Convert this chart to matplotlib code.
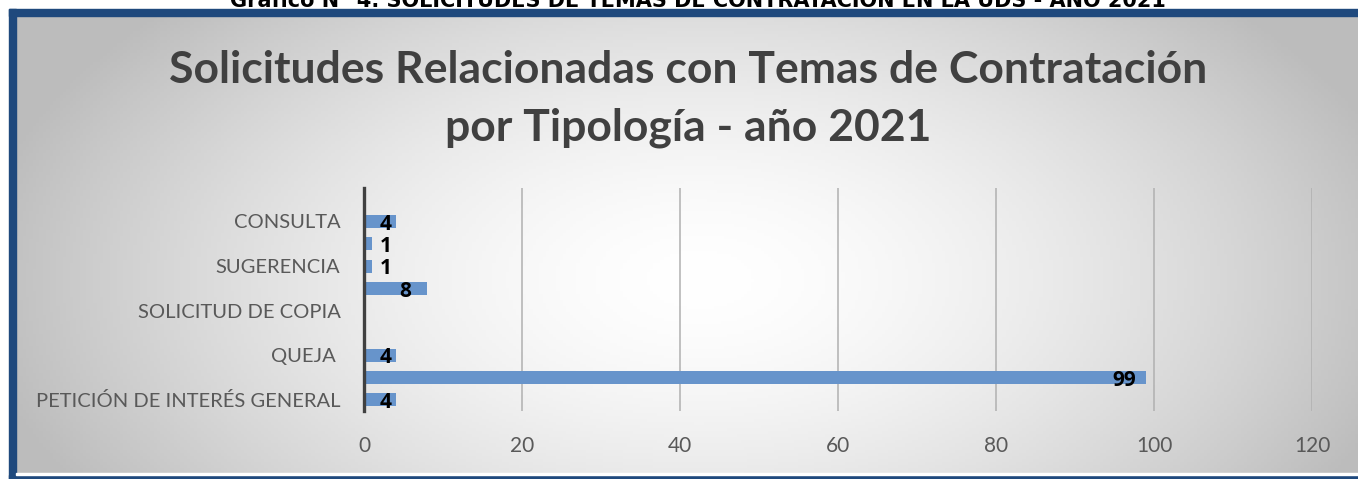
import numpy as np
import matplotlib
matplotlib.use("Agg")
import matplotlib.pyplot as plt
from matplotlib.patches import Rectangle

# --- DATA ---
categorias = ["PETICIÓN DE INTERÉS GENERAL", "PETICIÓN DE INTERÉS PARTICULAR", "QUEJA ",
              "RECLAMO", "SOLICITUD DE COPIA", "SOLICITUD DE INFORMACIÓN", "SUGERENCIA",
              "DENUNCIA", "CONSULTA", "FELICITACIÓN"]
valores = [4, 99, 4, 0, 0, 8, 1, 1, 4, 0]
ticks_x = [0, 20, 40, 60, 80, 100, 120]

titulo = "Solicitudes Relacionadas con Temas de Contratación\npor Tipología - año 2021"
encabezado = "Gráfico N° 4. SOLICITUDES DE TEMAS DE CONTRATACIÓN EN LA UDS - AÑO 2021"

W, H = 1358, 479
fig = plt.figure(figsize=(W / 100, H / 100), dpi=100)
fig.patch.set_facecolor("white")

def fx(px): return px / W
def fy(py): return 1 - py / H

# fondo degradado (radial)
bg = fig.add_axes([fx(16), fy(474), fx(W - 16), (474 - 16) / H], zorder=0)
xx, yy = np.meshgrid(np.linspace(16, W, 400), np.linspace(16, 474, 150))
r = np.sqrt(((xx - 700) / 760) ** 2 + ((yy - 280) / 420) ** 2)
shade = np.clip(1 - 0.28 * r ** 1.6, 0.74, 1)
bg.imshow(np.dstack([shade, shade, shade]), aspect="auto", extent=[0, 1, 0, 1])
bg.axis("off")

# marco azul
azul = "#1F497D"
fig.patches.append(Rectangle((fx(9), fy(16)), 1, 7 / H, transform=fig.transFigure, color=azul, zorder=1))
fig.patches.append(Rectangle((fx(9), 0), 7 / W, fy(9), transform=fig.transFigure, color=azul, zorder=1))
fig.patches.append(Rectangle((fx(9), 0), 1, 4.5 / H, transform=fig.transFigure, color=azul, zorder=1))
fig.patches.append(Rectangle((fx(16), 4.5 / H), 1, 1.5 / H, transform=fig.transFigure, color="white", zorder=1))

# encabezado recortado arriba, como en el original
fig.text(fx(698), fy(7), encabezado, ha="center", va="baseline", fontsize=15,
         fontweight="bold", family="Liberation Sans Narrow", color="black")

fig.text(fx(688), fy(99), titulo, ha="center", va="center", fontsize=32, fontweight="bold",
         family="Lato", color="#404040", linespacing=1.55, zorder=3)

ax = fig.add_axes([fx(364), fy(411), fx(1312) - fx(364), (411 - 188) / H], zorder=2)
ax.patch.set_alpha(0)
y = np.arange(len(categorias))
ax.barh(y, valores, height=0.58, color="#6794CB", zorder=3)
ax.set_xlim(0, 120)
ax.set_ylim(-0.5, len(categorias) - 0.5)
ax.set_xticks(ticks_x)
ax.set_xticklabels([str(t) for t in ticks_x], fontsize=15, family="Lato", color="#595959")
ax.set_yticks(y[::2])
ax.set_yticklabels(categorias[::2], fontsize=14.5, family="Lato", color="#595959")
ax.tick_params(length=0)
ax.tick_params(axis="x", pad=18)
ax.tick_params(axis="y", pad=17)
ax.grid(axis="x", color="#b0b0b0", linewidth=1.1, zorder=1)
for s in ["top", "right", "bottom"]:
    ax.spines[s].set_visible(False)
ax.spines["left"].set_color("#404040")
ax.spines["left"].set_linewidth(2.4)
ax.spines["left"].set_zorder(4)

for yi, v in zip(y, valores):
    if v > 0:
        ax.text(max(v - 2.8, 2.8), yi - 0.12, str(v), ha="center", va="center",
                fontsize=15, fontweight="bold", family="Open Sans", color="black", zorder=5)

fig.savefig("out.png", dpi=100)
